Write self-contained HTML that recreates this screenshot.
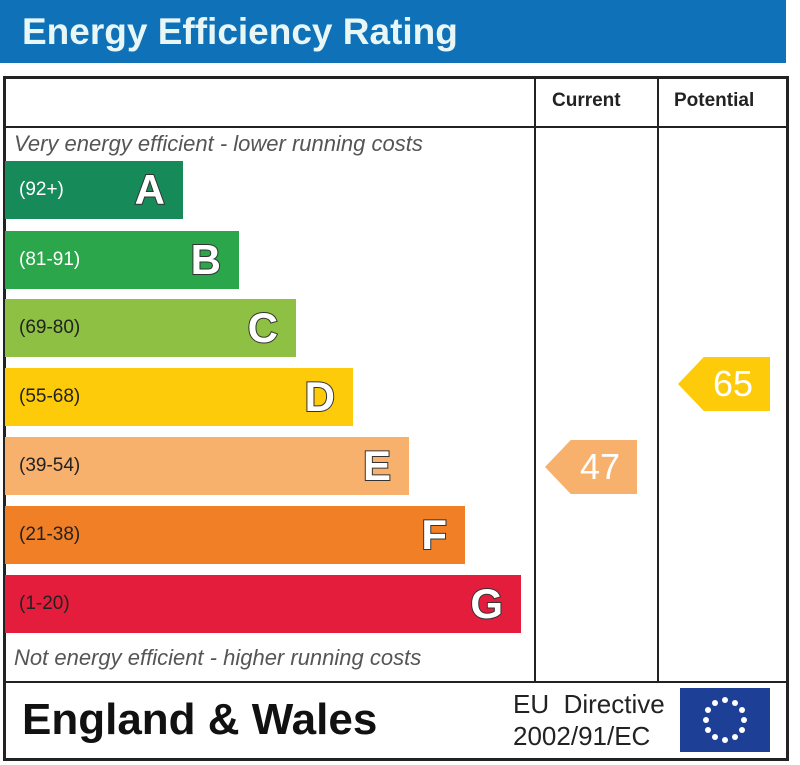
<!DOCTYPE html>
<html><head><style>
body{margin:0;width:800px;height:765px;background:#fff;position:relative;overflow:hidden;font-family:"Liberation Sans",sans-serif}
.a{position:absolute}
.bar{position:absolute;left:5px;height:58px}
.bar .r{position:absolute;left:14px;top:18px;font-size:19px;color:#222}
.bar .l{position:absolute;right:18px;top:5px;font-size:42px;font-weight:bold;color:#fff;-webkit-text-stroke:2px #333;paint-order:stroke fill}
.arr{position:absolute;height:54px;color:#fff;font-size:36px;text-align:center;line-height:54px}
</style></head><body>
<div class="a" style="left:0;top:0;width:786px;height:63px;background:#0f72b8"></div>
<div class="a" style="left:22px;top:11px;font-size:37px;font-weight:bold;color:#e8f6f6">Energy Efficiency Rating</div>
<div class="a" style="left:3px;top:76px;width:780px;height:679px;border:3px solid #222"></div>
<div class="a" style="left:3px;top:126px;width:783px;height:2px;background:#222"></div>
<div class="a" style="left:3px;top:681px;width:783px;height:2px;background:#222"></div>
<div class="a" style="left:534px;top:76px;width:2px;height:606px;background:#222"></div>
<div class="a" style="left:657px;top:76px;width:2px;height:606px;background:#222"></div>
<div class="a" style="left:552px;top:90px;font-size:19px;font-weight:bold;color:#222">Current</div>
<div class="a" style="left:674px;top:90px;font-size:19px;font-weight:bold;color:#222">Potential</div>
<div class="a" style="left:14px;top:131px;font-size:22px;font-style:italic;color:#555">Very energy efficient - lower running costs</div>
<div class="a" style="left:14px;top:645px;font-size:22px;font-style:italic;color:#555">Not energy efficient - higher running costs</div>
<div class="bar" style="top:161px;width:178px;background:#178a5a"><span class="r" style="color:#fff">(92+)</span><span class="l">A</span></div>
<div class="bar" style="top:231px;width:234px;background:#2ba64b"><span class="r" style="color:#fff">(81-91)</span><span class="l">B</span></div>
<div class="bar" style="top:299px;width:291px;background:#8dc043"><span class="r">(69-80)</span><span class="l">C</span></div>
<div class="bar" style="top:368px;width:348px;background:#fecb0a"><span class="r">(55-68)</span><span class="l">D</span></div>
<div class="bar" style="top:437px;width:404px;background:#f7b16d"><span class="r">(39-54)</span><span class="l">E</span></div>
<div class="bar" style="top:506px;width:460px;background:#f07f26"><span class="r">(21-38)</span><span class="l">F</span></div>
<div class="bar" style="top:575px;width:516px;background:#e41d3c"><span class="r">(1-20)</span><span class="l">G</span></div>
<div class="arr" style="left:545px;top:440px;width:92px;background:#f7b16d;clip-path:polygon(0 50%,28% 0,100% 0,100% 100%,28% 100%)"><span style="padding-left:18px">47</span></div>
<div class="arr" style="left:678px;top:357px;width:92px;background:#fecb0a;clip-path:polygon(0 50%,28% 0,100% 0,100% 100%,28% 100%)"><span style="padding-left:18px">65</span></div>
<div class="a" style="left:22px;top:695px;font-size:44px;font-weight:bold;color:#111">England &amp; Wales</div>
<div class="a" style="left:513px;top:688px;font-size:26px;color:#222;line-height:32px">EU&nbsp;&nbsp;Directive<br>2002/91/EC</div>
<svg class="a" style="left:680px;top:688px" width="90" height="64"><rect width="90" height="64" fill="#1e3f96"/>
<g fill="#fff">
<circle cx="45" cy="12" r="3"/><circle cx="55" cy="15" r="3"/><circle cx="62" cy="22" r="3"/><circle cx="64" cy="32" r="3"/><circle cx="62" cy="42" r="3"/><circle cx="55" cy="49" r="3"/><circle cx="45" cy="52" r="3"/><circle cx="35" cy="49" r="3"/><circle cx="28" cy="42" r="3"/><circle cx="26" cy="32" r="3"/><circle cx="28" cy="22" r="3"/><circle cx="35" cy="15" r="3"/></g></svg>
</body></html>
